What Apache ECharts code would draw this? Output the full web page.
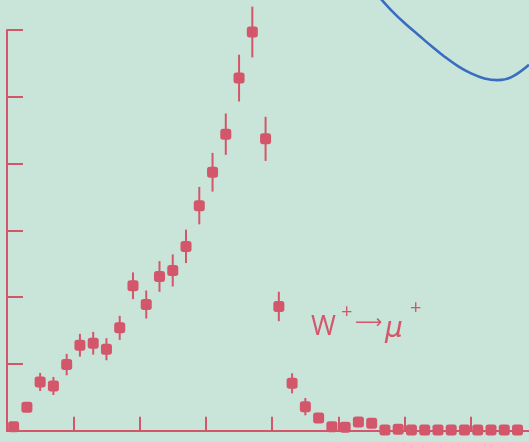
<!DOCTYPE html>
<html><head><meta charset="utf-8">
<script src="https://cdn.jsdelivr.net/npm/echarts@6/dist/echarts.min.js"></script>
<style>html,body{margin:0;padding:0;background:#c9e4d8;}#c{width:529px;height:442px;}</style>
</head><body><div id="c"></div>
<script>
// bin centres (x, in tick units) and counts (y, in tick units)
var binCenters = [0.1,0.3,0.5,0.7,0.9,1.1,1.3,1.5,1.7,1.9,2.1,2.3,2.5,2.7,2.9,3.1,3.3,3.5,3.7,3.9,4.1,4.3,4.5,4.7,4.9,5.1,5.3,5.5,5.7,5.9,6.1,6.3,6.5,6.7,6.9,7.1,7.3,7.5,7.7];
var counts = [0.06,0.35,0.73,0.67,0.99,1.28,1.31,1.22,1.54,2.17,1.89,2.31,2.40,2.76,3.37,3.87,4.44,5.28,5.97,4.37,1.86,0.71,0.36,0.19,0.06,0.05,0.13,0.11,0.01,0.02,0.01,0.01,0.01,0.01,0.01,0.01,0.01,0.01,0.01];
var errors = [0.04,0.07,0.135,0.135,0.16,0.17,0.17,0.165,0.18,0.2,0.21,0.23,0.24,0.25,0.28,0.29,0.31,0.35,0.38,0.33,0.22,0.15,0.13,0.07,0.04,0.04,0.05,0.05,0.02,0.02,0.02,0.02,0.02,0.02,0.02,0.02,0.02,0.02,0.02];
var xTicks = [0,1,2,3,4,5,6,7];
var yTicks = [0,1,2,3,4,5,6];
// blue curve (partial) in the upper right
var curveX = [5.60,5.80,6.00,6.20,6.40,6.60,6.80,7.00,7.20,7.40,7.60,7.873];
var curveY = [6.51,6.29,6.10,5.93,5.76,5.60,5.46,5.35,5.275,5.25,5.29,5.48];
var labelText = ['W','+','\u27F6','\u03BC','+'];

var red = '#d3566b';
var pts = binCenters.map(function(x,i){return [x, counts[i], errors[i]];});
var curve = curveX.map(function(x,i){return [x, curveY[i]];});

var chart = echarts.init(document.getElementById('c'));
chart.setOption({
  backgroundColor: '#c9e4d8',
  animation: false,
  grid: {left: 7, right: 0, top: 30, bottom: 11.3},
  xAxis: {type:'value', min:0, max:7.873, interval:1,
    axisLine:{show:true, onZero:false, lineStyle:{color:red, width:2}},
    axisTick:{show:true, inside:true, length:14, customValues:xTicks, lineStyle:{color:red, width:2}},
    axisLabel:{show:false}, splitLine:{show:false}},
  yAxis: {type:'value', min:0, max:6, interval:1,
    axisLine:{show:true, onZero:false, lineStyle:{color:red, width:2}},
    axisTick:{show:true, inside:true, length:16, customValues:yTicks, lineStyle:{color:red, width:2}},
    axisLabel:{show:false}, splitLine:{show:false}},
  graphic: [
    {type:'text', left:311, top:314, style:{text:labelText[0], font:'27px "Open Sans"', fill:red}},
    {type:'text', left:341, top:302, style:{text:labelText[1], font:'20px "Open Sans"', fill:red}},
    {type:'text', left:355, top:314, style:{text:labelText[2], font:'19px "DejaVu Sans"', fill:red}},
    {type:'text', left:385, top:316, style:{text:labelText[3], font:'italic 28px "DejaVu Sans"', fill:red}},
    {type:'text', left:410, top:298, style:{text:labelText[4], font:'20px "Open Sans"', fill:red}}
  ],
  series: [
    {type:'line', data: curve, smooth:0.4, clip:false, symbol:'none',
      lineStyle:{color:'#3a6cc2', width:2.6}},
    {type:'custom', clip:false, data: pts,
      renderItem: function(params, api){
        var x = api.value(0), y = api.value(1), e = api.value(2);
        var p1 = api.coord([x, y+e]), p2 = api.coord([x, y-e]);
        return {type:'line', shape:{x1:p1[0], y1:p1[1], x2:p2[0], y2:p2[1]},
          style:{stroke:red, lineWidth:2}};
      }},
    {type:'scatter', clip:false, data: pts.map(function(p){return [p[0],p[1]];}),
      symbol:'roundRect', symbolSize:11, itemStyle:{color:red, opacity:1}}
  ]
});
</script></body></html>
